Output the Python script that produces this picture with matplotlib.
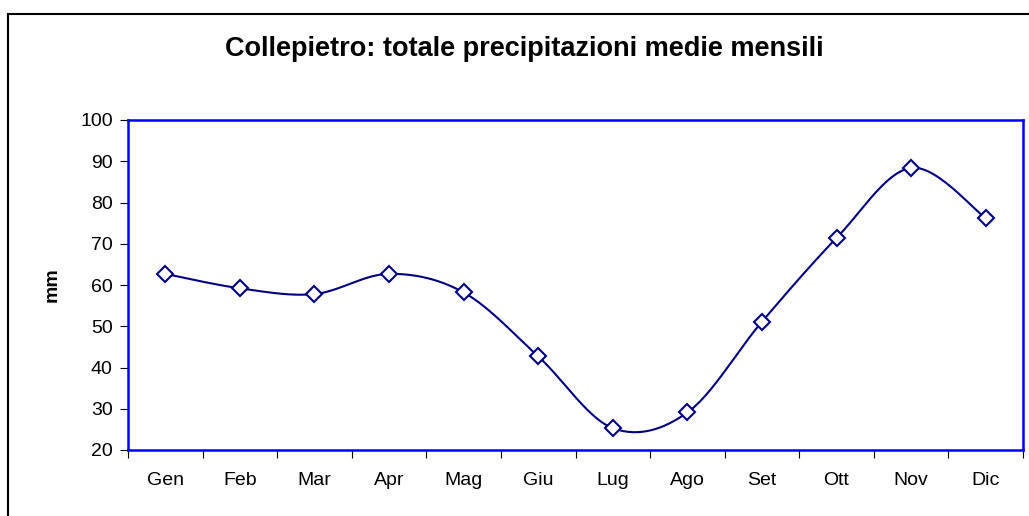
import numpy as np
import matplotlib.pyplot as plt
from matplotlib.patches import Rectangle

plt.rcParams['font.family'] = ['Liberation Sans', 'DejaVu Sans']

# Monthly mean precipitation (mm)
months = ["Gen", "Feb", "Mar", "Apr", "Mag", "Giu", "Lug", "Ago", "Set", "Ott", "Nov", "Dic"]
rain = [62.7, 59.2, 57.8, 62.7, 58.2, 42.7, 25.3, 29.1, 51.1, 71.4, 88.4, 76.2]
yticks = [20, 30, 40, 50, 60, 70, 80, 90, 100]


def smooth(xs, ys, n=30):
    # Excel style smoothed line (Catmull-Rom bezier through the points)
    px = np.concatenate([[xs[0]], xs, [xs[-1]]])
    py = np.concatenate([[ys[0]], ys, [ys[-1]]])
    outx, outy = [], []
    t = np.linspace(0, 1, n)
    for i in range(1, len(px) - 2):
        p0 = np.array([px[i], py[i]])
        p3 = np.array([px[i + 1], py[i + 1]])
        p1 = p0 + (np.array([px[i + 1], py[i + 1]]) - np.array([px[i - 1], py[i - 1]])) / 6
        p2 = p3 - (np.array([px[i + 2], py[i + 2]]) - np.array([px[i], py[i]])) / 6
        b = ((1 - t) ** 3)[:, None] * p0 + (3 * (1 - t) ** 2 * t)[:, None] * p1 \
            + (3 * (1 - t) * t ** 2)[:, None] * p2 + (t ** 3)[:, None] * p3
        outx.extend(b[:, 0])
        outy.extend(b[:, 1])
    return outx, outy


x = np.arange(len(months))
sx, sy = smooth(x.astype(float), np.array(rain))

fig = plt.figure(figsize=(10.29, 5.16), dpi=100)
fig.patches.append(Rectangle((8 / 1029, -0.1), 1.1, 1 - 14 / 516 + 0.1,
                             transform=fig.transFigure, fill=False,
                             edgecolor='black', linewidth=1.5))

ax = fig.add_axes([128 / 1029, 66 / 516, 895 / 1029, 330 / 516])
ax.plot(sx, sy, color='#000080', linewidth=1.5)
ax.plot(x, rain, linestyle='none', marker='D', markersize=8,
        markerfacecolor='white', markeredgecolor='#000080', markeredgewidth=1.5)

ax.set_xlim(-0.5, 11.5)
ax.set_ylim(20, 100)
ax.set_yticks(yticks)
ax.set_xticks(np.arange(-0.5, 12, 1))
ax.set_xticklabels([])
ax.set_xticks(x, minor=True)
ax.set_xticklabels(months, minor=True, fontsize=14)
ax.tick_params(axis='x', which='minor', length=0, pad=16)
ax.tick_params(axis='both', which='major', direction='out', length=6,
               color='black', labelsize=14)
ax.tick_params(axis='y', pad=5)

for s in ax.spines.values():
    s.set_color('#0000FF')
    s.set_linewidth(1.8)

ax.set_ylabel('mm', fontsize=14, fontweight='bold', labelpad=14)
fig.text(0.51, 0.906, 'Collepietro: totale precipitazioni medie mensili',
         ha='center', va='center', fontsize=19.5, fontweight='bold')

fig.savefig('out.png', dpi=100)
